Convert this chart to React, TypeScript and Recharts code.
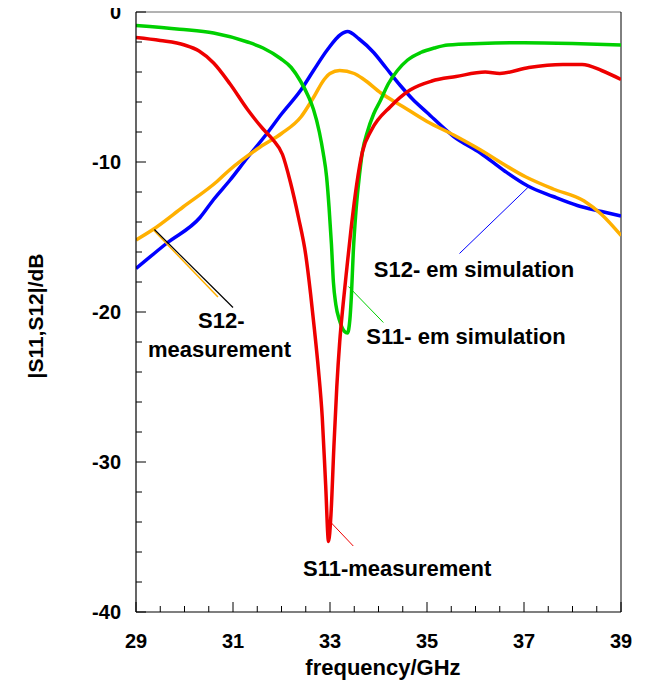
import React from "react";
import { LineChart, Line, XAxis, YAxis, ReferenceLine } from "recharts";

// S11 measurement (red)
const s11MeasFreq = [29.0, 29.5, 30.0, 30.3, 30.6, 30.94, 31.3, 31.62, 31.82, 32.02, 32.18, 32.35, 32.5, 32.6, 32.68, 32.76, 32.84, 32.91, 32.97, 33.02, 33.08, 33.14, 33.2, 33.27, 33.35, 33.44, 33.55, 33.67, 33.85, 34.25, 34.65, 35.1, 35.6, 36.2, 36.5, 37.1, 37.8, 38.2, 38.6, 39.0];
const s11MeasDb = [-1.7, -1.9, -2.2, -2.6, -3.4, -4.8, -6.5, -7.8, -8.5, -9.5, -11.3, -13.7, -16.2, -18.8, -21.2, -23.8, -27.0, -31.5, -35.3, -33.5, -29.0, -25.0, -22.0, -19.5, -17.0, -14.3, -11.5, -9.3, -7.9, -6.3, -5.2, -4.6, -4.3, -4.0, -4.1, -3.7, -3.5, -3.5, -3.9, -4.5];

// S11 em simulation (green)
const s11SimFreq = [29.0, 29.9, 30.6, 31.3, 31.62, 31.98, 32.2, 32.39, 32.55, 32.66, 32.78, 32.86, 32.93, 32.98, 33.03, 33.07, 33.12, 33.2, 33.3, 33.36, 33.41, 33.44, 33.48, 33.53, 33.59, 33.67, 33.77, 33.9, 34.04, 34.2, 34.39, 34.6, 34.87, 35.15, 35.43, 36.1, 37.0, 38.0, 39.0];
const s11SimDb = [-0.9, -1.15, -1.4, -2.0, -2.4, -3.1, -3.7, -4.6, -5.6, -6.5, -8.0, -9.4, -11.0, -13.0, -15.5, -18.0, -19.5, -20.6, -21.3, -21.4, -20.5, -19.0, -16, -13.5, -11.4, -9.3, -8.0, -6.8, -5.9, -4.8, -3.9, -3.2, -2.7, -2.4, -2.2, -2.1, -2.05, -2.1, -2.2];

// S12 em simulation (blue)
const s12SimFreq = [29.0, 29.64, 30.32, 30.6, 30.94, 31.3, 31.7, 32.0, 32.4, 32.66, 32.95, 33.22, 33.36, 33.6, 33.9, 34.15, 34.45, 34.7, 35.0, 35.55, 36.1, 36.6, 37.08, 37.6, 38.1, 38.6, 39.0];
const s12SimDb = [-17.1, -15.4, -13.7, -12.5, -11.2, -9.7, -8.1, -6.8, -5.2, -3.9, -2.5, -1.5, -1.3, -1.8, -2.7, -3.7, -4.9, -5.8, -6.7, -8.3, -9.4, -10.6, -11.6, -12.3, -12.9, -13.3, -13.6];

// S12 measurement (orange)
const s12MeasFreq = [29.0, 29.35, 29.97, 30.67, 30.94, 31.56, 32.0, 32.4, 32.66, 32.88, 33.0, 33.2, 33.5, 33.7, 34.05, 34.5, 35.0, 35.55, 36.0, 37.04, 37.6, 38.24, 38.6, 39.0];
const s12MeasDb = [-15.2, -14.5, -13.0, -11.3, -10.5, -9.0, -8.1, -7.0, -5.7, -4.5, -4.1, -3.9, -4.1, -4.5, -5.4, -6.3, -7.3, -8.2, -9.0, -11.0, -11.8, -12.6, -13.5, -14.9];

const xTicks = [29, 29.5, 30, 30.5, 31, 31.5, 32, 32.5, 33, 33.5, 34, 34.5, 35, 35.5, 36, 36.5, 37, 37.5, 38, 38.5, 39];
const xMajor = [29, 31, 33, 35, 37, 39];
const yTicks = [-40, -38, -36, -34, -32, -30, -28, -26, -24, -22, -20, -18, -16, -14, -12, -10, -8, -6, -4, -2, 0];
const yMajor = [-40, -30, -20, -10, 0];

const toRows = (f: number[], d: number[]) => f.map((x, i) => ({ f: x, db: d[i] }));

const FONT = "'Liberation Sans', Arial, Helvetica, sans-serif";

const YTick = (props: any) => {
  const { x, y, payload } = props;
  const v = payload.value;
  const major = yMajor.includes(v);
  return (
    <g>
      <line x1={x} x2={x + (major ? 10 : 6)} y1={y} y2={y} stroke="#000" strokeWidth={1} />
      {major && (
        <text x={x - 15} y={y} dy="0.36em" textAnchor="end" fontFamily={FONT} fontWeight="bold" fontSize={20} fill="#000">
          {String(v)}
        </text>
      )}
    </g>
  );
};

const XTick = (props: any) => {
  const { x, y, payload } = props;
  const v = payload.value;
  const major = xMajor.includes(v);
  return (
    <g>
      <line x1={x} x2={x} y1={y} y2={y - (major ? 10 : 6)} stroke="#000" strokeWidth={1} />
      {major && (
        <text x={x} y={y + 36} textAnchor="middle" fontFamily={FONT} fontWeight="bold" fontSize={20} fill="#000">
          {String(v)}
        </text>
      )}
    </g>
  );
};

const txt = { fontFamily: FONT, fontWeight: "bold" as const, fontSize: 22, fill: "#000" };

export default function App() {
  return (
    <div style={{ marginTop: -8, marginLeft: -8, position: "relative", width: 645, height: 692, background: "#fff" }}>
      <LineChart width={645} height={692} margin={{ top: 12, right: 24, left: 0, bottom: 0 }}>
        <XAxis
          type="number"
          dataKey="f"
          domain={[29, 39]}
          ticks={xTicks}
          interval={0}
          allowDataOverflow
          height={80}
          tickSize={0}
          tickMargin={0}
          tickLine={false}
          tick={<XTick />}
          axisLine={{ stroke: "#000", strokeWidth: 1.2 }}
        />
        <YAxis
          type="number"
          dataKey="db"
          domain={[-40, 0]}
          ticks={yTicks}
          interval={0}
          allowDataOverflow
          width={136}
          tickSize={0}
          tickMargin={0}
          tickLine={false}
          tick={<YTick />}
          axisLine={{ stroke: "#000", strokeWidth: 1.2 }}
        />
        <ReferenceLine y={0} stroke="#666" strokeWidth={1} />
        <ReferenceLine x={39} stroke="#000" strokeWidth={1} />
        <Line data={toRows(s12SimFreq, s12SimDb)} dataKey="db" type="monotone" stroke="#0000ff" strokeWidth={3.5} dot={false} isAnimationActive={false} />
        <Line data={toRows(s12MeasFreq, s12MeasDb)} dataKey="db" type="monotone" stroke="#ffb000" strokeWidth={3.5} dot={false} isAnimationActive={false} />
        <Line data={toRows(s11SimFreq, s11SimDb)} dataKey="db" type="monotone" stroke="#00d000" strokeWidth={3.5} dot={false} isAnimationActive={false} />
        <Line data={toRows(s11MeasFreq, s11MeasDb)} dataKey="db" type="monotone" stroke="#ee0000" strokeWidth={3.5} dot={false} isAnimationActive={false} />
        <ReferenceLine segment={[{ x: 35.67, y: -16.1 }, { x: 37.08, y: -11.7 }]} stroke="#0000ff" strokeWidth={1} />
        <ReferenceLine segment={[{ x: 33.38, y: -18.3 }, { x: 34.1, y: -20.7 }]} stroke="#00d000" strokeWidth={1} />
        <ReferenceLine segment={[{ x: 33.01, y: -34.0 }, { x: 33.48, y: -35.6 }]} stroke="#ee0000" strokeWidth={1} />
        <ReferenceLine segment={[{ x: 29.35, y: -14.5 }, { x: 30.69, y: -19.0 }]} stroke="#ffb000" strokeWidth={1.5} />
        <ReferenceLine segment={[{ x: 29.38, y: -14.5 }, { x: 31.0, y: -19.7 }]} stroke="#000" strokeWidth={1.2} />
      </LineChart>
      <svg width={645} height={692} style={{ position: "absolute", left: 0, top: 0, pointerEvents: "none" }}>
        <text x={474} y={277} textAnchor="middle" {...txt}>S12- em simulation</text>
        <text x={466} y={344} textAnchor="middle" {...txt}>S11- em simulation</text>
        <text x={198} y={328} textAnchor="start" {...txt}>S12-</text>
        <text x={148} y={357} textAnchor="start" {...txt}>measurement</text>
        <text x={303} y={576} textAnchor="start" {...txt}>S11-measurement</text>
        <text x={383} y={675} textAnchor="middle" {...txt}>frequency/GHz</text>
        <text x={43} y={316} textAnchor="middle" transform="rotate(-90 43 316)" {...txt} fontSize={21}>|S11,S12|/dB</text>
      </svg>
    </div>
  );
}
